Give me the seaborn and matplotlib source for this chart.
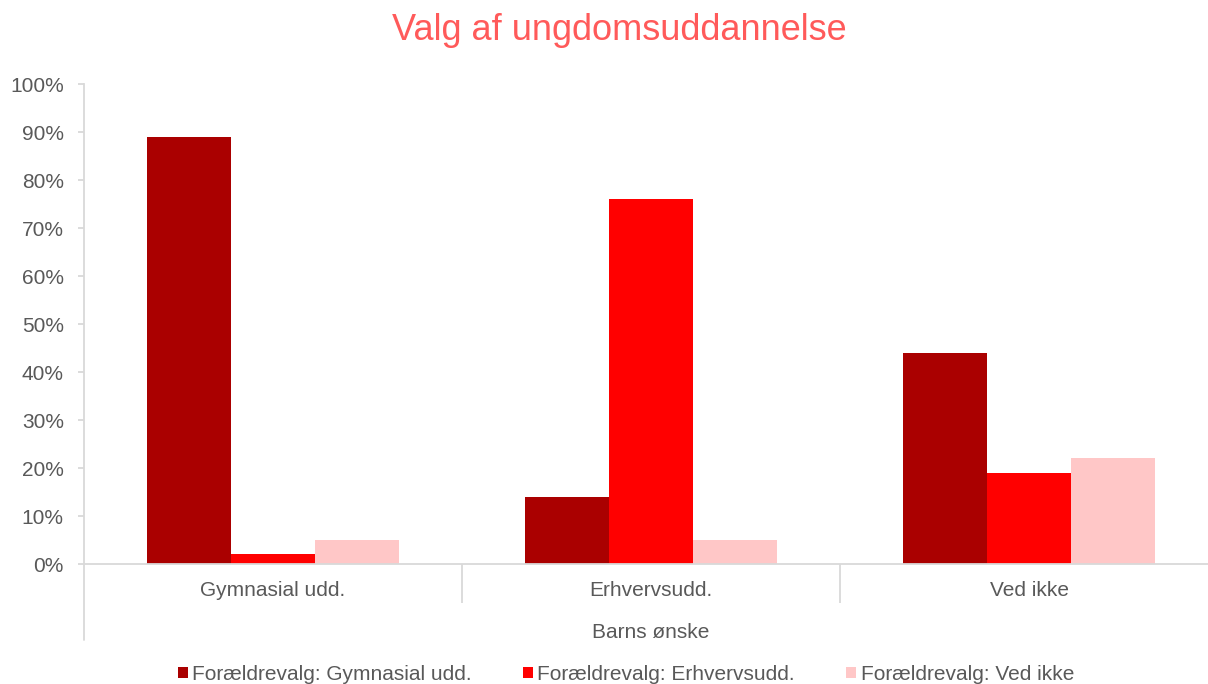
import matplotlib
matplotlib.use("Agg")
import matplotlib.pyplot as plt
import seaborn as sns
import pandas as pd
from matplotlib.ticker import PercentFormatter

CATEGORIES = ["Gymnasial udd.", "Erhvervsudd.", "Ved ikke"]
SERIES = ["Forældrevalg: Gymnasial udd.", "Forældrevalg: Erhvervsudd.", "Forældrevalg: Ved ikke"]
GYMNASIAL = [89, 14, 44]
ERHVERV = [2, 76, 19]
VED_IKKE = [5, 5, 22]
COLORS = ["#AA0000", "#FF0000", "#FFC7C7"]

rows = []
for series, values in zip(SERIES, [GYMNASIAL, ERHVERV, VED_IKKE]):
    for cat, v in zip(CATEGORIES, values):
        rows.append({"cat": cat, "series": series, "value": v})
df = pd.DataFrame(rows)

sns.set_style("white")
plt.rcParams['font.family'] = ['Liberation Sans', 'DejaVu Sans']
GRAY = "#595959"
AXIS = "#D9D9D9"
FS = 15

fig = plt.figure(figsize=(12.08, 6.84), dpi=100)
ax = fig.add_axes([84 / 1208, 1 - 564 / 684, 1134 / 1208, 480 / 684])

sns.barplot(data=df, x="cat", y="value", hue="series", palette=COLORS,
            saturation=1, width=0.667, gap=0, ax=ax, order=CATEGORIES,
            hue_order=SERIES, linewidth=0)

ax.set_ylim(0, 100)
ax.set_xlim(-0.5, 2.5)
ax.set_yticks(range(0, 101, 10))
ax.yaxis.set_major_formatter(PercentFormatter(decimals=0))

for s in ["top", "right"]:
    ax.spines[s].set_visible(False)
ax.spines["left"].set_color(AXIS)
ax.spines["bottom"].set_color(AXIS)
ax.spines["left"].set_linewidth(1.3)
ax.spines["bottom"].set_linewidth(1.3)
# left axis line continues down past the category labels
ax.plot([0, 0], [0, -(640 - 564) / 480], transform=ax.transAxes,
        color=AXIS, lw=1.3, clip_on=False)

ax.tick_params(axis="y", colors=AXIS, labelcolor=GRAY, labelsize=FS,
               length=4.5, width=1.3, pad=10, left=True)
ax.tick_params(axis="x", which="major", length=0, labelcolor=GRAY,
               labelsize=FS, pad=12)
# category separators
ax.set_xticks([0.5, 1.5], minor=True)
ax.tick_params(axis="x", which="minor", length=28, width=1.3, color=AXIS,
               direction="out", bottom=True)

ax.set_xlabel("Barns ønske", color=GRAY, fontsize=FS, labelpad=11)
ax.set_ylabel("")

fig.text(0.513, 0.955, "Valg af ungdomsuddannelse", color="#FF5A5A",
         fontsize=26, ha="center", va="center")

handles, labels = ax.get_legend_handles_labels()
ax.get_legend().remove()
fig.legend(handles, labels, loc="center", bbox_to_anchor=(0.518, 0.014),
           ncol=3, frameon=False, fontsize=FS, labelcolor=GRAY,
           handlelength=0.5, handleheight=0.5, handletextpad=0.2,
           columnspacing=2.45)

fig.savefig("out.png", dpi=100)
